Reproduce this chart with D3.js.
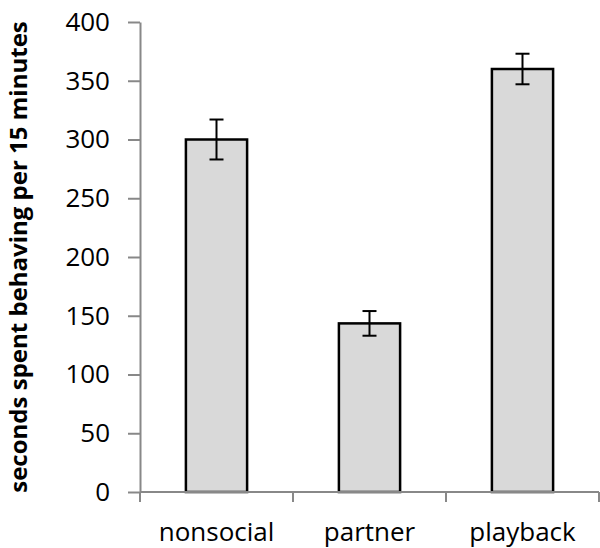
<!DOCTYPE html>
<html><head><meta charset="utf-8">
<script src="https://cdn.jsdelivr.net/npm/d3@7"></script>
<style>body{margin:0;background:#fff}svg{display:block}</style>
</head><body>
<svg id="c" width="600" height="548"></svg>
<script>
const categories = ["nonsocial", "partner", "playback"];
const means = [300, 143.5, 360];
const errors = [17, 10.5, 13];
const yTicks = [0, 50, 100, 150, 200, 250, 300, 350, 400];
const yLabel = "seconds spent behaving per 15 minutes";

(function () {
const svg = d3.select("#c");
const font = "'Open Sans', 'Noto Sans', sans-serif";
const mLeft = 140, mRight = 599, mTop = 22, mBottom = 492;

const x = d3.scaleBand().domain(categories).range([mLeft, mRight]).paddingInner(0.6).paddingOuter(0.3);
const y = d3.scaleLinear().domain([0, 400]).range([mBottom, mTop]);

// bars
svg.selectAll("rect.bar").data(categories).enter().append("rect")
  .attr("x", d => x(d)).attr("width", x.bandwidth())
  .attr("y", (d, i) => y(means[i])).attr("height", (d, i) => y(0) - y(means[i]))
  .attr("fill", "#d9d9d9").attr("stroke", "#000").attr("stroke-width", 2.5);

// y axis
const ya = svg.append("g").attr("transform", `translate(${mLeft},0)`)
  .call(d3.axisLeft(y).tickValues(yTicks).tickSize(12).tickPadding(18).tickSizeOuter(0));
ya.select(".domain").attr("stroke", "#888").attr("stroke-width", 2);
ya.selectAll(".tick line").attr("stroke", "#888").attr("stroke-width", 2);
ya.selectAll(".tick text").attr("font-family", font).attr("font-size", 26).attr("fill", "#000");

// x axis with ticks at band boundaries
const xa = svg.append("g").attr("transform", `translate(0,${mBottom})`);
xa.append("line").attr("x1", mLeft).attr("x2", mRight).attr("stroke", "#888").attr("stroke-width", 2);
const step = x.step();
const bounds = categories.map(d => x(d) - (step - x.bandwidth()) / 2).concat([mRight]);
xa.selectAll("line.t").data(bounds).enter().append("line")
  .attr("x1", d => d).attr("x2", d => d).attr("y1", 0).attr("y2", 10)
  .attr("stroke", "#888").attr("stroke-width", 2);
xa.selectAll("text").data(categories).enter().append("text")
  .attr("x", d => x(d) + x.bandwidth() / 2).attr("y", 49)
  .attr("text-anchor", "middle").attr("font-family", font).attr("font-size", 26).text(d => d);

// error bars
const eb = svg.append("g").attr("stroke", "#000").attr("stroke-width", 2);
categories.forEach((d, i) => {
  const cx = x(d) + x.bandwidth() / 2;
  eb.append("line").attr("x1", cx).attr("x2", cx).attr("y1", y(means[i] + errors[i])).attr("y2", y(means[i] - errors[i]));
  eb.append("line").attr("x1", cx - 7).attr("x2", cx + 7).attr("y1", y(means[i] + errors[i])).attr("y2", y(means[i] + errors[i]));
  eb.append("line").attr("x1", cx - 7).attr("x2", cx + 7).attr("y1", y(means[i] - errors[i])).attr("y2", y(means[i] - errors[i]));
});

// y label
svg.append("text").attr("transform", "translate(27,257) rotate(-90)")
  .attr("text-anchor", "middle").attr("font-family", font).attr("font-weight", "bold")
  .attr("font-size", 24).text(yLabel);
})();
</script>
</body></html>
